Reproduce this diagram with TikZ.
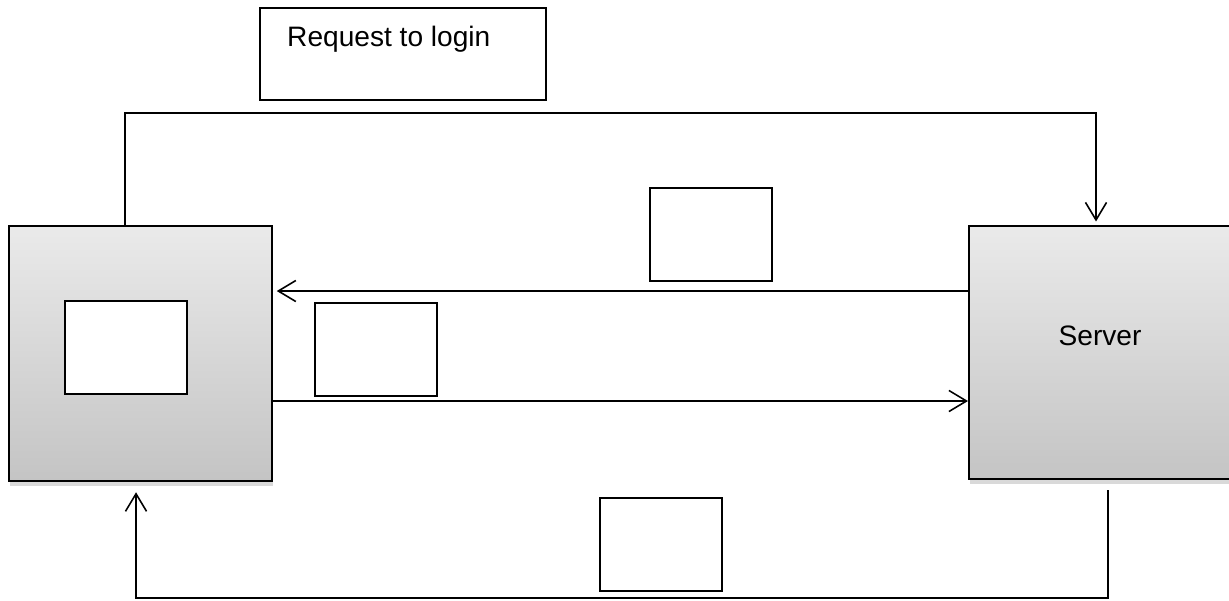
\documentclass[tikz,border=0pt]{standalone}
\usepackage{fontspec}
\setmainfont{Liberation Sans}
\usetikzlibrary{arrows.meta, positioning, shadows}

\definecolor{hosttop}{RGB}{234,234,234}
\definecolor{hostbottom}{RGB}{196,196,196}

\begin{document}
\begin{tikzpicture}[
  x=0.02cm, y=-0.02cm,
  font=\fontsize{16}{19}\selectfont,
  hostbox/.style={rectangle, draw=black, line width=1.3pt, inner sep=0pt,
                  anchor=north west, top color=hosttop, bottom color=hostbottom,
                  drop shadow={shadow xshift=0.6pt, shadow yshift=-2.5pt, opacity=0.3}},
  msgbox/.style={rectangle, draw=black, line width=1pt, fill=white,
                 inner sep=0pt, anchor=north west,
                 minimum width=2.44cm, minimum height=1.86cm},
  line/.style={line width=0.9pt},
  arrow/.style={line, -{Straight Barb[length=10pt, width=12pt]}}
]
\useasboundingbox (0,0) rectangle (1229,600);

% hosts
\node[hostbox, minimum width=5.26cm, minimum height=5.1cm] (client) at (8,225) {};
\node[hostbox, minimum width=5.6cm, minimum height=5.06cm] (server) at (968,225) {};
\node[anchor=base] (serverlabel) at (1100,345) {Server};

% message boxes
\node[msgbox, minimum width=5.72cm, minimum height=1.84cm] (login) at (259,7) {};
\node[anchor=base west] (logintext) at (281,46) {Request to login};
\node[msgbox] (screen) at (64,300) {};
\node[msgbox] (reply) at (649,187) {};
\node[msgbox] (send) at (314,302) {};
\node[msgbox] (back) at (599,497) {};

% connectors
\coordinate (loginL) at (125,113);
\coordinate (loginR) at (1096,113);
\coordinate (replyY) at (0,291);
\coordinate (sendY) at (0,401);
\coordinate (backR) at (1108,598);
\coordinate (backL) at (136,598);

\draw[arrow, shorten >=2pt] (client.north -| loginL) -- (loginL) -- (loginR)
  -- (server.north -| loginR);
\draw[arrow, shorten >=2pt] (server.west |- replyY) -- (client.east |- replyY);
\draw[arrow] (client.east |- sendY) -- (server.west |- sendY);
\draw[arrow, shorten <=0.2cm, shorten >=0.2cm] (server.south -| backR) -- (backR)
  -- (backL) -- (client.south -| backL);

\end{tikzpicture}
\end{document}
